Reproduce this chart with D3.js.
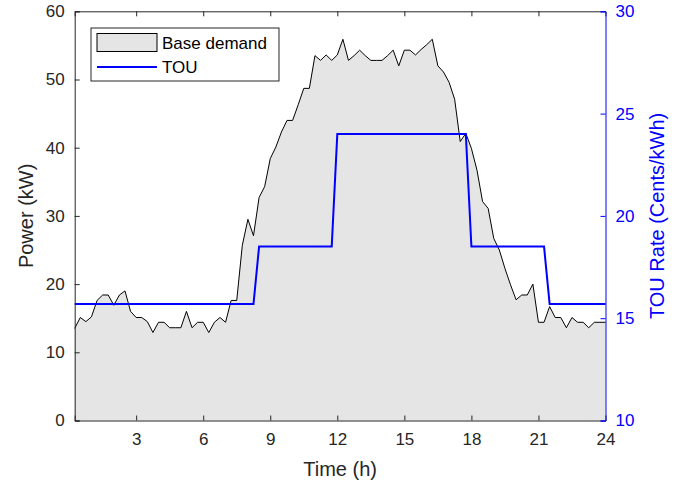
<!DOCTYPE html>
<html>
<head>
<meta charset="utf-8">
<script src="https://cdn.jsdelivr.net/npm/d3@7"></script>
<style>
  html, body { margin: 0; padding: 0; background: #fff; }
  svg { display: block; font-family: Arial, "Liberation Sans", Helvetica, sans-serif; }
</style>
</head>
<body>
<svg id="chart" width="692" height="485"></svg>
<script>
// Base demand, 15-minute samples from 00:15 to 24:00 (kW)
const hours = d3.range(1, 97).map(i => i / 4);
const baseDemand = [
  13.5, 15.1, 14.5, 15.2, 17.6, 18.4, 18.4, 16.9,
  18.4, 19.0, 16.0, 15.1, 15.1, 14.5, 12.9, 14.4,
  14.4, 13.6, 13.6, 13.6, 16.0, 13.6, 14.4, 14.4,
  12.9, 14.4, 15.1, 14.4, 17.6, 17.6, 25.7, 29.5,
  27.1, 32.7, 34.3, 38.4, 40.1, 42.3, 44.0, 44.0,
  46.3, 48.7, 48.7, 53.5, 52.8, 53.6, 52.8, 53.6,
  55.9, 52.8, 53.5, 54.3, 53.5, 52.8, 52.8, 52.8,
  53.5, 54.3, 52.0, 54.3, 54.3, 53.6, 54.4, 55.1,
  55.9, 52.0, 51.1, 49.6, 47.1, 40.9, 42.1, 39.9,
  36.7, 32.1, 31.1, 26.7, 25.0, 22.3, 19.9, 17.7,
  18.4, 18.4, 20.0, 14.4, 14.4, 16.7, 15.1, 15.1,
  13.6, 15.1, 14.4, 14.4, 13.6, 14.4, 14.4, 14.4
];

// TOU tariff (cents/kWh): hour at each breakpoint and the rate there
const touHours = [0.25, 8.25, 8.5, 11.75, 12, 17.75, 18, 21.25, 21.5, 24];
const touRates = [15.7, 15.7, 18.5, 18.5, 24.0, 24.0, 18.5, 18.5, 15.7, 15.7];

const xTicks = [3, 6, 9, 12, 15, 18, 21, 24];
const leftTicks = [0, 10, 20, 30, 40, 50, 60];
const rightTicks = [10, 15, 20, 25, 30];

const axisColor = "#262626";
const blue = "#0000ff";

const svg = d3.select("#chart");
const plot = { left: 74.7, right: 605.5, top: 11.3, bottom: 420.5 };

const x = d3.scaleLinear().domain([0.25, 24]).range([plot.left, plot.right]);
const yL = d3.scaleLinear().domain([0, 60]).range([plot.bottom, plot.top]);
const yR = d3.scaleLinear().domain([10, 30]).range([plot.bottom, plot.top]);

// Base demand area
const demand = hours.map((h, i) => ({ h, v: baseDemand[i] }));
svg.append("path")
  .datum(demand)
  .attr("fill", "#e5e5e5")
  .attr("d", d3.area().x(d => x(d.h)).y0(yL(0)).y1(d => yL(d.v)));
svg.append("path")
  .datum(demand)
  .attr("fill", "none")
  .attr("stroke", "#000")
  .attr("stroke-width", 1)
  .attr("d", d3.line().x(d => x(d.h)).y(d => yL(d.v)));

// TOU rate line
const tou = touHours.map((h, i) => ({ h, r: touRates[i] }));
svg.append("path")
  .datum(tou)
  .attr("fill", "none")
  .attr("stroke", blue)
  .attr("stroke-width", 2)
  .attr("d", d3.line().x(d => x(d.h)).y(d => yR(d.r)));

const tickLen = 5;
const fontTick = 17;

// Bottom axis
const gBottom = svg.append("g")
  .attr("transform", `translate(0,${plot.bottom})`)
  .call(d3.axisBottom(x).tickValues(xTicks).tickSize(-tickLen).tickPadding(12));
// Top axis (ticks only)
const gTop = svg.append("g")
  .attr("transform", `translate(0,${plot.top})`)
  .call(d3.axisTop(x).tickValues(xTicks).tickSize(-tickLen).tickFormat(""));
// Left axis
const gLeft = svg.append("g")
  .attr("transform", `translate(${plot.left},0)`)
  .call(d3.axisLeft(yL).tickValues(leftTicks).tickSize(-tickLen).tickPadding(10));
// Right axis
const gRight = svg.append("g")
  .attr("transform", `translate(${plot.right},0)`)
  .call(d3.axisRight(yR).tickValues(rightTicks).tickSize(-tickLen).tickPadding(10));

[gBottom, gTop, gLeft].forEach(g => {
  g.select(".domain").attr("stroke", axisColor).attr("stroke-width", 1);
  g.selectAll(".tick line").attr("stroke", axisColor);
  g.selectAll(".tick text").attr("fill", axisColor)
    .style("font-size", fontTick + "px").style("font-family", "Arial, 'Liberation Sans', sans-serif");
});
gTop.selectAll(".tick").filter(d => d === 24).remove();
gBottom.selectAll(".tick line").filter(d => d === 24).remove();
gRight.select(".domain").attr("stroke", blue).attr("stroke-width", 1);
gRight.selectAll(".tick line").attr("stroke", blue);
gRight.selectAll(".tick text").attr("fill", blue)
  .style("font-size", fontTick + "px").style("font-family", "Arial, 'Liberation Sans', sans-serif");

// Axis titles
svg.append("text")
  .attr("x", (plot.left + plot.right) / 2)
  .attr("y", 476)
  .attr("text-anchor", "middle")
  .attr("fill", axisColor)
  .style("font-size", "20px")
  .text("Time (h)");
svg.append("text")
  .attr("transform", `translate(33,${(plot.top + plot.bottom) / 2}) rotate(-90)`)
  .attr("text-anchor", "middle")
  .attr("fill", axisColor)
  .style("font-size", "20px")
  .text("Power (kW)");
svg.append("text")
  .attr("transform", `translate(664,${(plot.top + plot.bottom) / 2}) rotate(-90)`)
  .attr("text-anchor", "middle")
  .attr("fill", blue)
  .style("font-size", "20px")
  .text("TOU Rate (Cents/kWh)");

// Legend
const legend = svg.append("g");
legend.append("rect")
  .attr("x", 91).attr("y", 28).attr("width", 188).attr("height", 53)
  .attr("fill", "#fff").attr("stroke", axisColor).attr("stroke-width", 1);
legend.append("rect")
  .attr("x", 97).attr("y", 33.5).attr("width", 60).attr("height", 18)
  .attr("fill", "#e5e5e5").attr("stroke", "#000").attr("stroke-width", 1);
legend.append("line")
  .attr("x1", 97).attr("x2", 157).attr("y1", 67).attr("y2", 67)
  .attr("stroke", blue).attr("stroke-width", 2);
legend.append("text")
  .attr("x", 162).attr("y", 49)
  .attr("fill", "#000").style("font-size", "17px")
  .text("Base demand");
legend.append("text")
  .attr("x", 162).attr("y", 73)
  .attr("fill", "#000").style("font-size", "17px")
  .text("TOU");
</script>
</body>
</html>
